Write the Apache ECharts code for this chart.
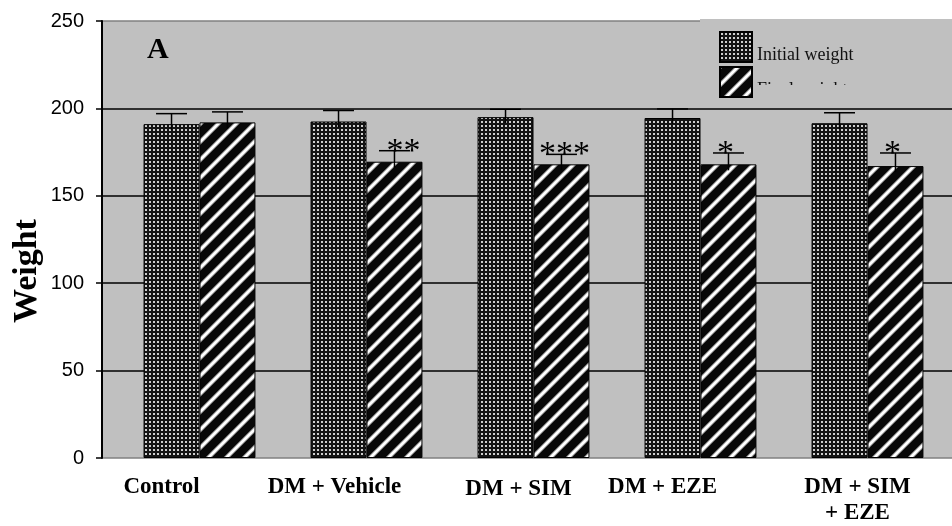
<!DOCTYPE html>
<html>
<head>
<meta charset="utf-8">
<script src="https://cdn.jsdelivr.net/npm/echarts@6/dist/echarts.min.js"></script>
<style>
  html, body { margin: 0; padding: 0; background: #ffffff; }
  #chart { width: 952px; height: 526px; }
</style>
</head>
<body>
<div id="chart"></div>
<script>
// Body weight per treatment group (mean with SEM)
const categories = ['Control', 'DM + Vehicle', 'DM + SIM', 'DM + EZE', 'DM + SIM\n+ EZE'];
const initialWeight = [191, 192.5, 195, 194.5, 191.5];
const finalWeight = [192, 169.5, 168, 168, 167];
const initialSem = [6, 6.3, 4.5, 5.2, 6];
const finalSem = [6, 6.3, 5.7, 6.5, 7.5];
const significance = ['', '**', '***', '*', '*'];
const seriesNames = ['Initial weight', 'Final weight'];
const yMin = 0, yMax = 250, yStep = 50;

// label nudges for the category names (x shift, extra top padding)
const labelShift = [[38, 0], [32, 0], [15, 5], [38, 0], [10, 0]];
// horizontal nudge of the significance stars
const markShift = [0, 9, 3, -3, -3];

// fill textures
function dotTile() {
  const c = document.createElement('canvas');
  c.width = 4; c.height = 4;
  const g = c.getContext('2d');
  g.fillStyle = '#141414';
  g.fillRect(0, 0, 4, 4);
  g.fillStyle = '#cfcfcf';
  g.fillRect(1, 1, 2, 2);
  return c;
}
function stripeTile() {
  const n = 18;
  const c = document.createElement('canvas');
  c.width = n; c.height = n;
  const g = c.getContext('2d');
  const img = g.createImageData(n, n);
  for (let y = 0; y < n; y++) {
    for (let x = 0; x < n; x++) {
      const d = ((x + y + 1) % n + n) % n;
      const dist = Math.min(d, n - d);
      const v = Math.max(0, Math.min(1, 1 - (dist - 1.3) / 2.7));
      const k = Math.round(8 + 247 * v);
      const o = (y * n + x) * 4;
      img.data[o] = k; img.data[o + 1] = k; img.data[o + 2] = k; img.data[o + 3] = 255;
    }
  }
  g.putImageData(img, 0, 0);
  return c;
}
const dotFill = { image: dotTile(), repeat: 'repeat' };
const stripeFill = { image: stripeTile(), repeat: 'repeat' };

const BAR_CAT_GAP = 0.33;
const serif = 'Liberation Serif';

const rich = {};
labelShift.forEach((s, i) => {
  rich['c' + i] = {
    fontFamily: serif, fontWeight: 'bold', fontSize: 23, color: '#000',
    lineHeight: 26, padding: [s[1], 2 * s[0], 0, 0]
  };
});

const errorData = categories.map((c, i) => [i, initialWeight[i], initialSem[i], finalWeight[i], finalSem[i], significance[i]]);

const chart = echarts.init(document.getElementById('chart'), null, { renderer: 'canvas' });
chart.setOption({
  animation: false,
  backgroundColor: '#ffffff',
  grid: [
    { left: 116, right: 1, top: 21, bottom: 68, containLabel: false },
    { left: 102, right: 0, top: 21, bottom: 68, show: true, backgroundColor: '#c0c0c0', borderWidth: 0, z: 0 }
  ],
  legend: {
    data: seriesNames,
    orient: 'vertical',
    left: 700, top: 19,
    padding: [11, 300, 4, 19],
    itemGap: 1,
    itemWidth: 32, itemHeight: 30,
    backgroundColor: '#c0c0c0',
    icon: 'rect',
    selectedMode: false,
    formatter: name => '{t|' + name + '}',
    textStyle: {
      fontFamily: serif, fontSize: 18, color: '#111',
      rich: { t: { fontFamily: serif, fontSize: 18, color: '#111', lineHeight: 20, padding: [16, 0, 0, 0] } }
    },
    z: 5
  },
  xAxis: [
    {
      type: 'category', gridIndex: 0, data: categories,
      axisLine: { show: false }, axisTick: { show: false },
      axisLabel: {
        interval: 0, margin: 16,
        formatter: (v, idx) => v.split('\n').map(line => '{c' + idx + '|' + line + '}').join('\n'),
        rich: rich
      }
    },
    { type: 'category', gridIndex: 1, data: [''], show: false }
  ],
  yAxis: [
    { type: 'value', gridIndex: 0, min: yMin, max: yMax, interval: yStep, show: false },
    {
      type: 'value', gridIndex: 1, min: yMin, max: yMax, interval: yStep,
      axisLine: { show: true, lineStyle: { color: '#000', width: 2 } },
      axisTick: { show: true, inside: false, length: 6, lineStyle: { color: '#000', width: 1.5 } },
      axisLabel: { fontFamily: 'Liberation Sans', fontSize: 20, color: '#000', margin: 18 },
      splitLine: { show: true, lineStyle: { color: ['#808080', '#000', '#000', '#000', '#000', '#808080'], width: 1.5 } }
    }
  ],
  graphic: [
    { type: 'text', x: 27, y: 271, rotation: Math.PI / 2, z: 10,
      style: { text: 'Weight', fontFamily: serif, fontWeight: 'bold', fontSize: 34, fill: '#000', align: 'center', verticalAlign: 'middle' } },
    { type: 'text', x: 147, y: 35, z: 10,
      style: { text: 'A', fontFamily: serif, fontWeight: 'bold', fontSize: 30, fill: '#000', align: 'left', verticalAlign: 'top' } },
    { type: 'rect', z: 100, shape: { x: 755, y: 85, width: 200, height: 15 }, style: { fill: '#c0c0c0' } }
  ],
  series: [
    {
      name: seriesNames[0], type: 'bar', xAxisIndex: 0, yAxisIndex: 0,
      data: initialWeight, barGap: '0%', barCategoryGap: (BAR_CAT_GAP * 100) + '%',
      itemStyle: { color: dotFill, borderColor: '#000', borderWidth: 1 },
      emphasis: { disabled: true }, z: 3
    },
    {
      name: seriesNames[1], type: 'bar', xAxisIndex: 0, yAxisIndex: 0,
      data: finalWeight, barGap: '0%', barCategoryGap: (BAR_CAT_GAP * 100) + '%',
      itemStyle: { color: stripeFill, borderColor: '#000', borderWidth: 1 },
      emphasis: { disabled: true }, z: 3
    },
    {
      type: 'custom', xAxisIndex: 0, yAxisIndex: 0, z: 4, silent: true,
      data: errorData,
      renderItem: function (params, api) {
        const i = api.value(0);
        const band = api.size([1, 0])[0];
        const bw = band * (1 - BAR_CAT_GAP) / 2;
        const cx = api.coord([i, 0])[0];
        const capHalf = 15.5;
        const line = { stroke: '#000', lineWidth: 1.5 };
        const children = [];
        [[api.value(1), api.value(2), cx - bw / 2], [api.value(3), api.value(4), cx + bw / 2]].forEach(function (b) {
          const yTop = api.coord([i, b[0]])[1];
          const yCap = api.coord([i, b[0] + b[1]])[1];
          children.push({ type: 'line', shape: { x1: b[2], y1: yTop + 6, x2: b[2], y2: yCap }, style: line });
          children.push({ type: 'line', shape: { x1: b[2] - capHalf, y1: yCap, x2: b[2] + capHalf, y2: yCap }, style: line });
        });
        const mark = significance[i];
        if (mark) {
          const yCap = api.coord([i, api.value(3) + api.value(4)])[1];
          children.push({
            type: 'text',
            style: { text: mark, x: cx + bw / 2 + markShift[i], y: yCap + 1, fontFamily: serif, fontSize: 34, fill: '#000', align: 'center', verticalAlign: 'middle' }
          });
        }
        return { type: 'group', children: children };
      }
    }
  ]
});
</script>
</body>
</html>
